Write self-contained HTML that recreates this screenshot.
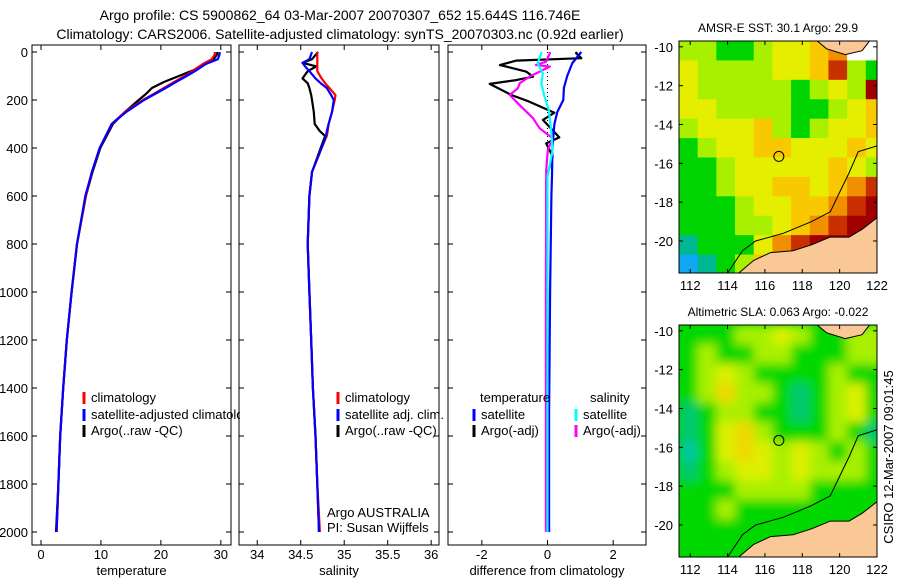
<!DOCTYPE html>
<html><head><meta charset="utf-8"><style>
html,body{margin:0;padding:0;background:#fff;}
svg{display:block;font-family:"Liberation Sans",sans-serif;}
text{font-size:13px;fill:#000;}
</style></head><body>
<svg id="fig" width="900" height="580" viewBox="0 0 900 580">
<defs>
<clipPath id="p1clip"><rect x="32" y="45" width="208" height="500"/></clipPath>
<filter id="smooth" x="-5%" y="-5%" width="110%" height="110%"><feGaussianBlur stdDeviation="5"/></filter>
</defs>
<text x="340" y="20" text-anchor="middle" style="font-size:14px">Argo profile: CS 5900862_64 03-Mar-2007 20070307_652 15.644S 116.746E</text>
<text x="340" y="39" text-anchor="middle" style="font-size:14px">Climatology: CARS2006. Satellite-adjusted climatology: synTS_20070303.nc (0.92d earlier)</text>
<g id="g1"></g>
<g id="g2"></g>
<g id="g3"></g>
<g id="m1"></g>
<g id="m2"></g>
<text transform="translate(893,457) rotate(-90)" text-anchor="middle">CSIRO 12-Mar-2007 09:01:45</text>
</svg>
<script>
// ---- profile data ----
const depths = [0,10,30,50,75,100,125,150,175,200,250,300,400,500,600,800,1000,1200,1400,1600,1800,2000];
const tempClim = [29.0,29.0,28.5,27,25.5,24,22.2,20.5,18.8,17,14,11.8,9.8,8.5,7.5,6,5.1,4.3,3.7,3.2,2.9,2.6];
const tempSat = [29.8,29.8,29.5,27.5,26,24.3,22.5,20.8,19,17.2,14.2,11.8,9.8,8.5,7.4,6,5.1,4.3,3.7,3.2,2.9,2.6];
const tempArgo = [29.4,29.4,28.8,27.5,25.5,23,20.5,18.5,17.5,16.3,14,12,9.9,8.6,7.5,6,5.1,4.3,3.7,3.2,2.9,2.5];
const salDepths = [0,30,45,60,80,110,130,150,180,200,250,300,330,350,400,500,600,800,1000,1200,1400,1600,1800,2000];
const salClim = [34.69,34.69,34.69,34.69,34.69,34.74,34.78,34.83,34.9,34.89,34.86,34.82,34.81,34.8,34.74,34.63,34.6,34.58,34.6,34.62,34.64,34.67,34.69,34.72];
const salSat = [34.63,34.6,34.52,34.55,34.6,34.67,34.73,34.8,34.85,34.88,34.86,34.82,34.8,34.79,34.74,34.63,34.6,34.58,34.6,34.62,34.64,34.67,34.69,34.71];
const salArgo = [34.7,34.63,34.52,34.68,34.58,34.52,34.58,34.6,34.62,34.63,34.65,34.66,34.72,34.78,34.73,34.63,34.6,34.58,34.6,34.62,34.64,34.67,34.69,34.71];
const dTempSatDepth = [0,46,100,150,200,250,300,400,500,600,1000,1500,2000];
const dTempSat = [1.03,0.76,0.6,0.5,0.48,0.3,0.21,0.15,0.14,0.12,0.08,0.05,0.05];
const dTempArgoDepth = [0,5,26,36,54,82,103,117,133,179,207,253,283,356,381,436,505,547,1000,2000];
const dTempArgo = [0.9,0.87,1.03,-0.95,-1.45,-0.64,-0.44,-0.95,-1.76,-1.1,-0.55,0.21,-0.14,0.36,-0.04,0.16,0.01,-0.04,0,0];
const dSalArgoDepth = [0,5,40,54,61,103,131,151,179,228,276,318,360,408,492,1000,2000];
const dSalArgo = [0.07,0.07,-0.04,-0.35,0.07,-0.55,-0.85,-0.9,-1.15,-0.8,-0.44,-0.24,0.16,0.01,-0.04,-0.05,-0.05];
const dSalSatDepth = [0,5,47,89,131,186,242,325,408,519,1000,2000];
const dSalSat = [-0.19,-0.19,-0.3,-0.14,-0.19,-0.09,0.04,0.11,0.16,0,0,0];
const depthTicks = [0,200,400,600,800,1000,1200,1400,1600,1800,2000];
const tempTicks = [0,10,20,30];
const salTicks = ["34","34.5","35","35.5","36"];
const diffTicks = [-2,0,2];

const NS="http://www.w3.org/2000/svg";
function mk(parent,tag,attrs,txt){const e=document.createElementNS(NS,tag);for(const k in attrs)e.setAttribute(k,attrs[k]);if(txt!==undefined)e.textContent=txt;parent.appendChild(e);return e;}
const Y0=52, YS=0.24;
function yD(d){return Y0+d*YS;}

function panel(g,x0,x1,xmin,xmax,ticks,xlabel,showY){
  const sx=v=>x0+(v-xmin)/(xmax-xmin)*(x1-x0);
  const fr=mk(g,'rect',{x:x0,y:45,width:x1-x0,height:500,fill:'none',stroke:'#000','stroke-width':1});
  
  
  ticks.forEach(t=>{const x=sx(+t);
    mk(g,'line',{x1:x,x2:x,y1:45,y2:50,stroke:'#000'});mk(g,'line',{x1:x,x2:x,y1:545,y2:540,stroke:'#000'});
    const tl=mk(g,'text',{x:x,y:559,'text-anchor':'middle'},String(t));
    
    
  });
  depthTicks.forEach(d=>{const y=yD(d);
    mk(g,'line',{x1:x0,x2:x0+5,y1:y,y2:y,stroke:'#000'});mk(g,'line',{x1:x1,x2:x1-5,y1:y,y2:y,stroke:'#000'});
    if(showY){const yl=mk(g,'text',{x:28,y:y+5,'text-anchor':'end'},String(d));
      
      }
  });
  const xl=mk(g,'text',{x:(x0+x1)/2,y:575,'text-anchor':'middle'},xlabel);
  
  
  return sx;
}
function line(g,sx,ds,vs,color,name,w){
  const pts=ds.map((d,i)=>sx(vs[i]).toFixed(1)+','+yD(d).toFixed(1)).join(' ');
  const p=mk(g,'polyline',{points:pts,fill:'none',stroke:color,'stroke-width':w||2.2,'stroke-linejoin':'round'});
  
  
}
function leg(g,x,y,color,label,name){
  mk(g,'line',{x1:x,x2:x,y1:y-10,y2:y+2,stroke:color,'stroke-width':3});
  const t=mk(g,'text',{x:x+7,y:y},label);
  
  
}
// panel 1
const g1=document.getElementById('g1');
const sx1=panel(g1,32,231,-1.5,31.7,tempTicks,'temperature',true);
line(g1,sx1,depths,tempArgo,'#000','argo-temperature-line');
line(g1,sx1,depths,tempClim,'#f00','climatology-temperature-line');
line(g1,sx1,depths,tempSat,'#00f','satellite-temperature-line');
const lg1=mk(g1,'g',{'clip-path':'url(#p1clip)'});
leg(lg1,84,402,'#f00','climatology','legend-climatology');
leg(lg1,84,419,'#00f','satellite-adjusted climatology','legend-satellite');
leg(lg1,84,435,'#000','Argo(..raw -QC)','legend-argo');
// panel 2
const g2=document.getElementById('g2');
const sx2=panel(g2,239,439,33.79,36.09,salTicks,'salinity',false);
line(g2,sx2,salDepths,salArgo,'#000','argo-salinity-line');
line(g2,sx2,salDepths,salClim,'#f00','climatology-salinity-line');
line(g2,sx2,salDepths,salSat,'#00f','satellite-salinity-line');
leg(g2,338,402,'#f00','climatology','legend-climatology');
leg(g2,338,419,'#00f','satellite adj. clim.','legend-satellite');
leg(g2,338,435,'#000','Argo(..raw -QC)','legend-argo');
mk(g2,'text',{x:327,y:517},'Argo AUSTRALIA');
mk(g2,'text',{x:327,y:532},'PI: Susan Wijffels');
// panel 3
const g3=document.getElementById('g3');
const sx3=panel(g3,448,646,-3.03,3.0,diffTicks,'difference from climatology',false);
mk(g3,'line',{x1:sx3(0),x2:sx3(0),y1:52,y2:150,stroke:'#000','stroke-dasharray':'1,3'});
line(g3,sx3,dTempArgoDepth,dTempArgo,'#000','argo-temp-diff-line');
line(g3,sx3,dSalArgoDepth,dSalArgo,'#f0f','argo-sal-diff-line');
line(g3,sx3,dTempSatDepth,dTempSat,'#00f','satellite-temp-diff-line');
line(g3,sx3,dSalSatDepth,dSalSat,'#0ff','satellite-sal-diff-line');
mk(g3,'text',{x:480,y:402},'temperature');
mk(g3,'text',{x:590,y:402},'salinity');
leg(g3,474,419,'#00f','satellite','legend-temp-satellite');
leg(g3,474,435,'#000','Argo(-adj)','legend-temp-argo');
leg(g3,576,419,'#0ff','satellite','legend-sal-satellite');
leg(g3,576,435,'#f0f','Argo(-adj)','legend-sal-argo');

// ---- maps ----
const lonTicks=[112,114,116,118,120,122];
const latTicks=[-10,-12,-14,-16,-18,-20];
const sstColors=['#10a8f0','#00b890','#00d400','#a8f000','#e6ee00','#f8c800','#f09000','#c83000','#a00000'];
const slaColors=['#00c8a0','#00c870','#00d800','#a8f000','#dcf000','#f0d800'];
// rows from lat -9.7 southward, 1 deg cells; cols from lon 111.4 eastward; -2 = missing (white)
const sstGrid=[
[3,3,2,2,3,4,4,5,6,-2,-2],
[4,3,3,3,3,4,4,5,7,3,2],
[4,3,3,3,3,3,2,3,4,3,8],
[4,4,3,3,3,3,2,2,3,4,5],
[3,4,4,4,5,3,2,3,4,4,5],
[2,3,4,4,5,5,4,4,4,5,4],
[2,2,3,4,4,4,4,4,5,4,3],
[2,2,3,4,4,5,5,4,5,6,7],
[2,2,2,3,4,4,5,5,6,7,8],
[2,2,2,3,3,4,5,6,7,8,8],
[1,2,2,2,4,6,7,8,8,8,8],
[0,1,2,3,5,7,7,7,7,7,7]];
const slaGrid=[
[2,2,2,3,3,4,3,2,2,3,3],
[2,3,2,2,3,3,2,2,2,3,3],
[2,3,4,3,2,2,2,2,3,2,2],
[2,3,5,3,3,2,1,2,3,4,2],
[1,2,3,3,2,2,1,2,3,4,2],
[1,2,4,5,3,2,2,2,3,2,1],
[0,2,4,5,4,3,4,3,2,3,2],
[1,2,3,4,4,3,4,3,3,3,2],
[2,2,2,3,3,3,3,2,2,2,2],
[2,2,3,2,2,2,2,2,2,2,2],
[2,2,2,2,2,2,2,2,2,2,2],
[2,2,2,2,2,2,2,2,2,2,2]];
const landSouth=[[114.6,-21.65],[115.4,-21],[116.3,-20.6],[117.5,-20.5],[118.5,-20.2],[119.5,-19.8],[120.5,-19.8],[121.2,-19.4],[122,-18.8],[122,-21.65]];
const landNorth=[[118.8,-9.7],[119.3,-10.1],[120.3,-10.4],[121.2,-10.2],[121.6,-9.7]];
const contour=[[114,-21.65],[114.8,-20.5],[115.5,-20],[117,-19.6],[118.5,-19],[119.5,-18.5],[120,-17.5],[120.5,-16.5],[121,-15.4],[122,-15.1]];
const floatPos=[116.746,-15.644];

function map(id,top,bottom,grid,colors,title,smooth){
  const g=document.getElementById(id);
  const L=679,R=877,lonMin=111.4,lonMax=122,latMax=-9.7,latMin=-21.65;
  const sx=v=>L+(v-lonMin)/(lonMax-lonMin)*(R-L);
  const sy=v=>top+(latMax-v)/(latMax-latMin)*(bottom-top);
  const cp=mk(g,'clipPath',{id:id+'c'});mk(cp,'rect',{x:L,y:top,width:R-L,height:bottom-top});
  const cg=mk(g,'g',{'clip-path':'url(#'+id+'c)'});
  mk(cg,'rect',{x:L,y:top,width:R-L,height:bottom-top,fill:colors[2]});
  const fg=mk(cg,'g',smooth?{filter:'url(#smooth)'}:{});
  grid.forEach((row,r)=>row.forEach((v,c)=>{
    const x=sx(lonMin+c),y=sy(latMax-r);
    const cell=mk(fg,'rect',{x:x,y:y,width:sx(lonMin+c+1)-x+0.5,height:sy(latMax-r-1)-y+0.5,fill:v<0?'#fff':colors[v]});
    
    
  }));
  const pp=a=>a.map(p=>sx(p[0]).toFixed(1)+','+sy(p[1]).toFixed(1)).join(' ');
  const l1=mk(cg,'polygon',{points:pp(landSouth),fill:'#f9c896',stroke:'#000','stroke-width':1});
  
  
  mk(cg,'polygon',{points:pp(landNorth),fill:'#f9c896',stroke:'#000','stroke-width':1});
  const ct=mk(cg,'polyline',{points:pp(contour),fill:'none',stroke:'#000','stroke-width':1});
  
  
  const fc=mk(g,'circle',{cx:sx(floatPos[0]),cy:sy(floatPos[1]),r:5,fill:'none',stroke:'#000','stroke-width':1});
  
  
  mk(g,'rect',{x:L,y:top,width:R-L,height:bottom-top,fill:'none',stroke:'#000'});
  lonTicks.forEach(t=>{const x=sx(t);mk(g,'line',{x1:x,x2:x,y1:top,y2:top+4,stroke:'#000'});mk(g,'line',{x1:x,x2:x,y1:bottom,y2:bottom-4,stroke:'#000'});
    const tl=mk(g,'text',{x:x,y:bottom+17,'text-anchor':'middle'},String(t));
    
    });
  latTicks.forEach(t=>{const y=sy(t);mk(g,'line',{x1:L,x2:L+4,y1:y,y2:y,stroke:'#000'});mk(g,'line',{x1:R,x2:R-4,y1:y,y2:y,stroke:'#000'});
    const tl=mk(g,'text',{x:673,y:y+5,'text-anchor':'end'},String(t));
    
    });
  const tt=mk(g,'text',{x:(L+R)/2,y:top-9,'text-anchor':'middle',style:'font-size:12px'},title);
  
  
}
map('m1',41,273,sstGrid,sstColors,'AMSR-E SST: 30.1 Argo: 29.9',false);
map('m2',325,557,slaGrid,slaColors,'Altimetric SLA: 0.063 Argo: -0.022',true);
</script>
</body></html>
